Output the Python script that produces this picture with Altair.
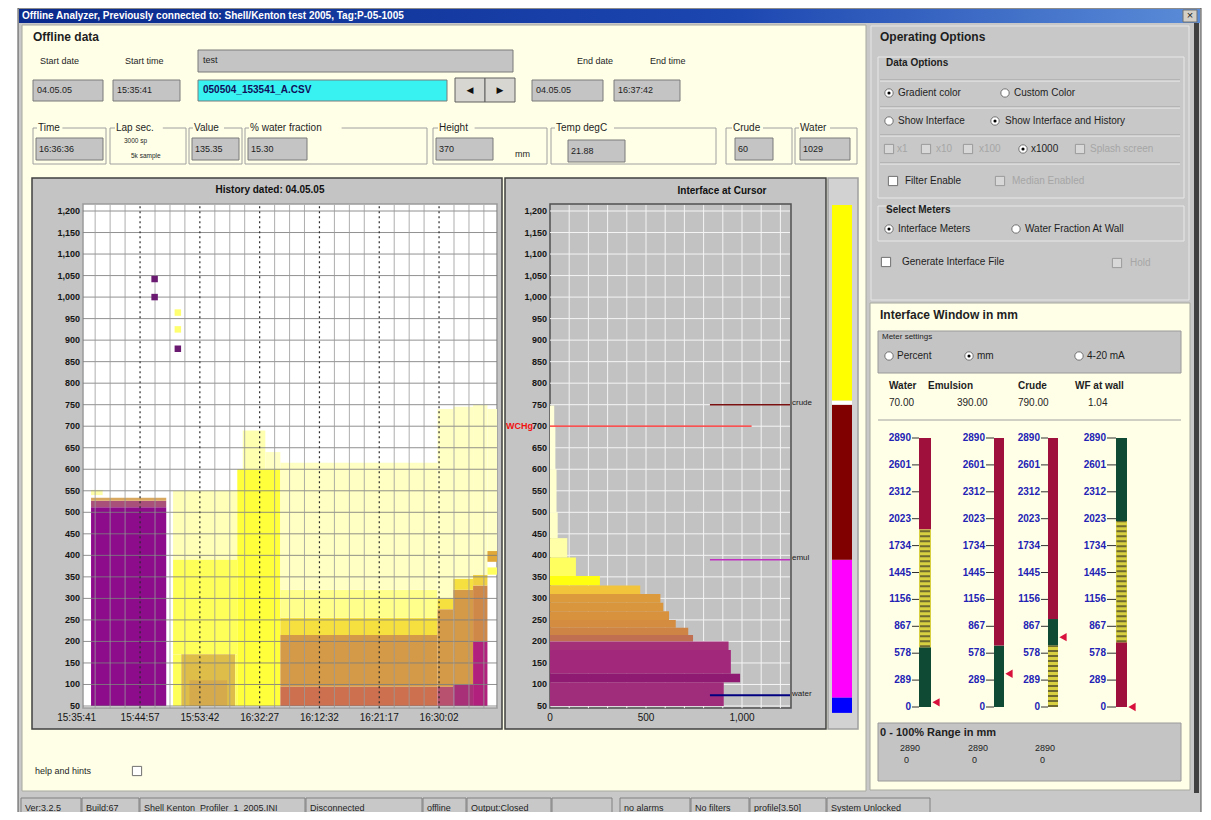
import altair as alt
import pandas as pd

FONT = "Liberation Sans"
W, H, OFF = 1195, 804, 8

# ---------------- chart data ----------------
# History chart: x = minutes since 15:35:41, y = height in mm
hist_y_ticks = [50, 100, 150, 200, 250, 300, 350, 400, 450, 500, 550, 600,
                650, 700, 750, 800, 850, 900, 950, 1000, 1050, 1100, 1150, 1200]
hist_x_tick_min = [0.0, 9.27, 18.02, 26.77, 35.52, 44.27, 53.02]
hist_x_tick_lbl = ["15:35:41", "15:44:57", "15:53:42", "16:32:27",
                   "16:12:32", "16:21:17", "16:30:02"]
hist_minor_min = [2.70, 4.89, 7.08, 11.46, 13.65, 15.83, 20.21, 22.40, 24.58,
                  28.96, 31.15, 33.33, 37.71, 39.90, 42.08, 46.46, 48.65,
                  50.83, 55.21, 57.40, 59.58]
# (start min, end min, low mm, high mm, colour)
hist_bands = [
    (2.1, 13.1, 50, 512, "#8C0C8C"), (2.1, 13.1, 512, 527, "#A8507A"),
    (2.1, 13.1, 527, 534, "#D8A860"), (2.1, 3.8, 540, 552, "#FFFFA8"),
    (14.1, 23.5, 390, 550, "#FFFFB8"), (14.1, 23.5, 170, 390, "#FFFF5A"),
    (14.1, 15.3, 50, 170, "#FFFF5A"), (15.3, 23.2, 50, 170, "#DEBE48"),
    (16.5, 22.0, 50, 110, "#D4AA4C"), (23.2, 23.5, 50, 170, "#FFFF5A"),
    (23.5, 29.8, 50, 600, "#FFFF3C"), (24.3, 27.6, 600, 690, "#FFFFB0"),
    (27.6, 29.8, 600, 640, "#FFFFC4"),
    (29.8, 52.8, 50, 95, "#CC7050"), (29.8, 52.8, 95, 215, "#D49A48"),
    (29.8, 52.8, 215, 255, "#F6E040"), (29.8, 52.8, 255, 320, "#FFFF8C"),
    (29.8, 52.8, 320, 615, "#FFFFC4"),
    (52.8, 55.1, 50, 95, "#B85070"), (52.8, 55.1, 95, 275, "#D49A48"),
    (52.8, 55.1, 275, 300, "#F6E040"), (52.8, 55.1, 300, 740, "#FFFFC4"),
    (55.1, 58.0, 50, 100, "#A83078"), (55.1, 58.0, 100, 320, "#D49A48"),
    (55.1, 58.0, 320, 345, "#F6E040"), (55.1, 58.0, 345, 745, "#FFFFC4"),
    (58.0, 60.1, 50, 200, "#B0207C"), (58.0, 60.1, 200, 330, "#D08848"),
    (58.0, 60.1, 330, 355, "#F0D040"), (58.0, 60.1, 355, 750, "#FFFFC4"),
    (60.1, 61.5, 355, 372, "#FFFF60"), (60.1, 61.5, 385, 410, "#E0A838"),
    (60.1, 61.5, 410, 740, "#FFFFC8"),
]
hist_points = [(11.4, 1042, "#6A1A70"), (11.4, 1000, "#6A1A70"),
               (14.8, 964, "#FFFF70"), (14.8, 925, "#FFFF70"),
               (14.8, 880, "#6A1A70")]

# Interface at cursor: (low mm, high mm, count, colour)
iface_bars = [
    (700, 748, 22, "#FFFFD8"), (600, 700, 28, "#FFFFD8"), (500, 600, 34, "#FFFFD0"),
    (440, 500, 40, "#FFFFC8"), (395, 440, 90, "#FFFFA8"), (352, 395, 135, "#FFFF60"),
    (330, 352, 260, "#FFFF10"), (310, 330, 470, "#F2C43C"), (290, 310, 575, "#DC9A3C"),
    (270, 290, 590, "#DA963C"), (250, 270, 620, "#D8923E"), (232, 250, 655, "#D48C40"),
    (215, 232, 720, "#CE8444"), (200, 215, 745, "#C07050"), (180, 200, 930, "#A4307A"),
    (125, 180, 942, "#A2287C"), (105, 125, 990, "#8E1A72"), (50, 105, 905, "#A02C7C"),
]
iface_x_ticks = [0, 500, 1000]
iface_grid_x = [100, 200, 300, 400, 500, 600, 700, 800, 900, 1000, 1100, 1200]
# reference lines: (label, mm, from, to, colour, width)
iface_refs = [("crude", 750, 833, 1250, "#7A1010", 1.5),
              ("WCHg", 700, 0, 1050, "#FF2020", 1.2),
              ("emul", 390, 833, 1250, "#C030C0", 1.5),
              ("water", 75, 833, 1250, "#000080", 2.0)]
colorbar_bands = [(34, 70, "#0000FF"), (70, 390, "#FF00FF"), (390, 750, "#800000"),
                  (750, 760, "#FFFFFF"), (760, 1214, "#FFFF00")]

# Interface window meters (mm)
gauge_ticks = [2890, 2601, 2312, 2023, 1734, 1445, 1156, 867, 578, 289, 0]
gauge_segments = [
    (0, 0, 642, "green"), (0, 642, 1909, "stripe"), (0, 1909, 2890, "red"),
    (1, 0, 660, "green"), (1, 660, 2890, "red"),
    (2, 0, 660, "stripe"), (2, 660, 945, "green"), (2, 945, 2890, "red"),
    (3, 0, 696, "red"), (3, 696, 1998, "stripe"), (3, 1998, 2890, "green"),
]
gauge_pointer = [50, 357, 750, 0]
meter_names = ["Water", "Emulsion", "Crude", "WF at wall"]
meter_values = ["70.00", "390.00", "790.00", "1.04"]

# ---------------- layout / styling ----------------
def R(a, b):
    return [a - OFF, b - OFF]

def S(domain, rng):
    return alt.Scale(domain=domain, range=rng, nice=False, zero=False)

PX = S([OFF, W + OFF], [0, W])
PY = S([OFF, H + OFF], [0, H])
HX = S([0, 61.5], R(76.7, 497))
HY = S([50, 1200], R(706, 211))
IX = S([0, 1250], R(550, 790))
GY = S([0, 2890], R(707, 438))
GAUGE_X = [(919, 931), (994, 1004), (1048, 1058), (1116, 1127)]
GAUGE_LBL_X = [911, 985, 1040, 1106]
SEG_COL = {"green": "#0E4A34", "red": "#A0103C", "stripe": "#D8D040"}

layers = []


def rect_layer(rows, xsc=PX, ysc=PY, sw=1):
    rows = [tuple(r) + ("transparent",) if len(r) == 5 else tuple(r) for r in rows]
    df = pd.DataFrame(rows, columns=["x0", "y0", "x1", "y1", "f", "s"])
    return alt.Chart(df).mark_rect(strokeWidth=sw).encode(
        x=alt.X("x0:Q", scale=xsc, axis=None), x2="x1:Q",
        y=alt.Y("y0:Q", scale=ysc, axis=None), y2="y1:Q",
        fill=alt.Fill("f:N", scale=None), stroke=alt.Stroke("s:N", scale=None))


def rule_layer(rows, xsc=PX, ysc=PY, sw=1, dash=None, opacity=1):
    df = pd.DataFrame(rows, columns=["x0", "y0", "x1", "y1", "c"])
    kw = dict(strokeWidth=sw, opacity=opacity)
    if dash:
        kw["strokeDash"] = dash
    return alt.Chart(df).mark_rule(**kw).encode(
        x=alt.X("x0:Q", scale=xsc, axis=None), x2="x1:Q",
        y=alt.Y("y0:Q", scale=ysc, axis=None), y2="y1:Q",
        color=alt.Color("c:N", scale=None))


def text_layer(rows, size=10, bold=False, align="left", xsc=PX, ysc=PY, font=FONT):
    df = pd.DataFrame(rows, columns=["x", "y", "t", "c"])
    return alt.Chart(df).mark_text(
        align=align, baseline="middle", fontSize=size, font=font,
        fontWeight="bold" if bold else "normal").encode(
        x=alt.X("x:Q", scale=xsc, axis=None), y=alt.Y("y:Q", scale=ysc, axis=None),
        text="t:N", color=alt.Color("c:N", scale=None))


def pts(rows):
    return pd.DataFrame(rows, columns=["x", "y"])


def point_layer(df, xsc=PX, ysc=PY, **mk):
    return alt.Chart(df).mark_point(**mk).encode(
        x=alt.X("x:Q", scale=xsc, axis=None), y=alt.Y("y:Q", scale=ysc, axis=None))


GRAY = "#C8C8C8"
CREAM = "#FFFFE8"
FIELD = "#C4C4C4"
TXT = "#1E1E1E"

# ---- window chrome ----
layers.append(rect_layer([
    (18, 8, 1201, 820, GRAY, "#505050"),
    (22, 25, 866, 791, CREAM, "#A8A8A0"),
    (871, 26, 1189, 300, GRAY, "#E6E6E6"),
    (870, 303, 1190, 790, CREAM, "#A8A8A0"),
    (1194, 23, 1199, 793, "#404040"),
]))
title_grad = alt.LinearGradient(
    gradient="linear",
    stops=[alt.GradientStop(color="#0A2A8C", offset=0),
           alt.GradientStop(color="#1C46B0", offset=0.6),
           alt.GradientStop(color="#5A8CD8", offset=1)],
    x1=0, x2=1, y1=0, y2=0)
layers.append(alt.Chart(pd.DataFrame({"x0": [19], "x1": [1200], "y0": [9], "y1": [23]}))
              .mark_rect(fill=title_grad).encode(
                  x=alt.X("x0:Q", scale=PX, axis=None), x2="x1:Q",
                  y=alt.Y("y0:Q", scale=PY, axis=None), y2="y1:Q"))
layers.append(rect_layer([(1183, 10, 1197, 22, "#D4D0C8", "#707070")]))

# ---- left panel fields ----
field_rows = [
    (198, 50, 513, 72, FIELD, "#7A7A7A"),
    (33, 80, 103, 101, FIELD, "#7A7A7A"), (113, 80, 180, 101, FIELD, "#7A7A7A"),
    (198, 80, 447, 101, "#38F2F2", "#7A7A7A"),
    (455, 78, 485, 102, "#D8D6D0", "#606060"), (485, 78, 515, 102, "#D8D6D0", "#606060"),
    (532, 80, 603, 101, FIELD, "#7A7A7A"), (614, 80, 680, 101, FIELD, "#7A7A7A"),
]
group_frames = [(33, 128, 106, 164), (110, 128, 186, 164), (189, 128, 242, 164),
                (245, 128, 427, 164), (433, 128, 547, 164), (551, 128, 716, 164),
                (726, 128, 792, 164), (795, 128, 857, 164)]
layers.append(rect_layer([(a, b, c, d, CREAM, "#A0A0A0") for a, b, c, d in group_frames]))
group_labels = [("Time", 38, 128), ("Lap sec.", 116, 128), ("Value", 194, 128),
                ("% water fraction", 250, 128), ("Height", 439, 128),
                ("Temp  degC", 556, 128), ("Crude", 733, 128), ("Water", 800, 128)]
layers.append(rect_layer([(x - 1, 122, x + len(t) * 5.6 + 2, 134, CREAM) for t, x, y in group_labels]))
field_rows += [(36, 138, 103, 160, FIELD, "#7A7A7A"), (192, 138, 239, 160, FIELD, "#7A7A7A"),
               (248, 138, 307, 160, FIELD, "#7A7A7A"), (436, 138, 493, 160, FIELD, "#7A7A7A"),
               (568, 140, 625, 162, FIELD, "#7A7A7A"), (735, 138, 773, 160, FIELD, "#7A7A7A"),
               (800, 138, 850, 160, FIELD, "#7A7A7A")]
layers.append(rect_layer(field_rows))

# ---- chart frames ----
layers.append(rect_layer([
    (32, 178, 502, 729, "#C4C4C4", "#404040"),
    (505, 178, 826, 729, "#C4C4C4", "#404040"),
    (828, 178, 858, 729, "#D2D2D2", "#A0A0A0"),
    (83, 204, 497, 708, "#FFFFFF", "#9A9A9A"),
    (550, 204, 791, 708, "#C2C2C2", "#505050"),
], sw=1.5))

# ---- history chart ----
layers.append(rect_layer([(m0, v0, m1, v1, c) for m0, m1, v0, v1, c in hist_bands], xsc=HX, ysc=HY))
layers.append(rule_layer([(0.92, v, 61.5, v, "#7E7E7E") for v in hist_y_ticks],
                         xsc=HX, ysc=HY, sw=1, opacity=0.85))
layers.append(rule_layer([(m, 45, m, 1214, "#9A9A9A") for m in hist_minor_min],
                         xsc=HX, ysc=HY, sw=1, opacity=0.8))
layers.append(rule_layer([(m, 45, m, 1214, "#2A2A2A") for m in hist_x_tick_min[1:]],
                         xsc=HX, ysc=HY, sw=1.2, dash=[2, 3]))
hp = pd.DataFrame(hist_points, columns=["x", "y", "c"])
layers.append(alt.Chart(hp).mark_square(size=42, opacity=1).encode(
    x=alt.X("x:Q", scale=HX, axis=None), y=alt.Y("y:Q", scale=HY, axis=None),
    color=alt.Color("c:N", scale=None)))
layers.append(text_layer([(80, v, f"{v:,}", "#141414") for v in hist_y_ticks],
                         size=9, bold=True, align="right", xsc=PX, ysc=HY))
layers.append(text_layer([(m, 718, l, "#141414") for m, l in zip(hist_x_tick_min, hist_x_tick_lbl)],
                         size=10, align="center", xsc=HX, ysc=PY))
layers.append(text_layer([(270, 190, "History dated: 04.05.05", "#101010")], size=10, bold=True, align="center"))

# ---- interface at cursor ----
layers.append(rule_layer([(0, v, 1250, v, "#F4F4F4") for v in hist_y_ticks], xsc=IX, ysc=HY, sw=1))
layers.append(rule_layer([(x, 45, x, 1214, "#F4F4F4") for x in iface_grid_x], xsc=IX, ysc=HY, sw=1))
layers.append(rect_layer([(0, lo, w, hi, c) for lo, hi, w, c in iface_bars], xsc=IX, ysc=HY))
for name, v, a, b, c, sw in iface_refs:
    layers.append(rule_layer([(a, v, b, v, c)], xsc=IX, ysc=HY, sw=sw))
layers.append(text_layer([(792, v + 3, n, "#202020") for n, v, a, b, c, sw in iface_refs if n != "WCHg"],
                         size=8, xsc=PX, ysc=HY))
layers.append(text_layer([(506, 700, "WCHg", "#F01010")], size=9, bold=True, xsc=PX, ysc=HY))
layers.append(text_layer([(547, v, f"{v:,}", "#141414") for v in hist_y_ticks],
                         size=9, bold=True, align="right", xsc=PX, ysc=HY))
layers.append(text_layer([(x, 718, f"{x:,}", "#141414") for x in iface_x_ticks],
                         size=10, align="center", xsc=IX, ysc=PY))
layers.append(text_layer([(722, 191, "Interface at Cursor", "#101010")], size=10, bold=True, align="center"))

# ---- colour bar ----
layers.append(rect_layer([(832, lo, 852, hi, c) for lo, hi, c in colorbar_bands], xsc=PX, ysc=HY))

# ---- gauges ----
seg_rows, stripe_rows = [], []
for g, lo, hi, kind in gauge_segments:
    x0, x1 = GAUGE_X[g]
    seg_rows.append((x0, lo, x1, hi, SEG_COL[kind]))
    if kind == "stripe":
        stripe_rows.append(((x0 + x1) / 2, lo, (x0 + x1) / 2, hi, "#6E6A30"))
layers.append(rect_layer(seg_rows, xsc=PX, ysc=GY))
layers.append(rule_layer(stripe_rows, xsc=PX, ysc=GY, sw=10, dash=[2, 3]))
tick_rows, lbl_rows = [], []
for g in range(4):
    for v in gauge_ticks:
        tick_rows.append((GAUGE_LBL_X[g] + 1, v, GAUGE_X[g][0], v, "#303030"))
        lbl_rows.append((GAUGE_LBL_X[g], v, str(v), "#2222B4"))
layers.append(rule_layer(tick_rows, xsc=PX, ysc=GY, sw=1))
layers.append(text_layer(lbl_rows, size=10, bold=True, align="right", xsc=PX, ysc=GY))
ptr = pd.DataFrame({"x": [GAUGE_X[g][1] + 5 for g in range(4)], "y": gauge_pointer})
layers.append(point_layer(ptr, xsc=PX, ysc=GY, shape="triangle-left", size=70,
                          filled=True, color="#D8103C", opacity=1))

# ---- right panels ----
layers.append(rect_layer([
    (878, 57, 1184, 198, "transparent", "#E8E8E8"),
    (878, 206, 1184, 241, "transparent", "#E8E8E8"),
    (878, 331, 1181, 373, FIELD, "#9A9A9A"),
    (878, 723, 1181, 781, FIELD, "#9A9A9A"),
]))
layers.append(rule_layer([(880, y, 1180, y, "#A0A0A0") for y in (80, 107, 135, 163)] +
                         [(880, y + 1, 1180, y + 1, "#EEEEEE") for y in (80, 107, 135, 163)] +
                         [(878, 420, 1181, 420, "#A0A0A0")], sw=1))

# status bar
status = [("Ver:3.2.5", 21, 81), ("Build:67", 82, 139), ("Shell Kenton_Profiler_1_2005.INI", 140, 305),
          ("Disconnected", 306, 422), ("offline", 423, 466), ("Output:Closed", 467, 551),
          ("", 552, 612), ("no alarms", 620, 690), ("No filters", 691, 749),
          ("profile[3.50]", 750, 826), ("System Unlocked", 827, 930)]
layers.append(rect_layer([(a, 798, b, 818, GRAY, "#808080") for t, a, b in status]))
layers.append(text_layer([(a + 4, 808, t, TXT) for t, a, b in status if t], size=9))

# ---- texts ----
layers.append(text_layer([(22, 15.5, "Offline Analyzer, Previously connected to: Shell/Kenton test 2005, Tag:P-05-1005", "#FFFFFF")],
                         size=10, bold=True))
layers.append(text_layer([(1190, 16, "×", "#202020")], size=11, align="center"))
layers.append(text_layer([(33, 37, "Offline data", TXT),
                          (880, 37, "Operating Options", TXT),
                          (880, 315, "Interface Window in mm", TXT)], size=12, bold=True))
layers.append(text_layer([(886, 63, "Data Options", TXT), (886, 210, "Select Meters", TXT)],
                         size=10, bold=True))
normal = [("Start date", 40, 61), ("Start time", 125, 61), ("End date", 577, 61), ("End time", 650, 61),
          ("test", 203, 60), ("04.05.05", 37, 90), ("15:35:41", 117, 90),
          ("04.05.05", 536, 90), ("16:37:42", 618, 90),
          ("16:36:36", 39, 149), ("135.35", 195, 149), ("15.30", 251, 149), ("370", 439, 149),
          ("21.88", 571, 151), ("60", 738, 149), ("1029", 803, 149), ("mm", 515, 154),
          ("help and hints", 35, 771)]
layers.append(text_layer([(x, y, t, TXT) for t, x, y in normal], size=9))
layers.append(text_layer([(x, y, t, TXT) for t, x, y in group_labels], size=10))
layers.append(text_layer([(124, 141, "3000 sp", TXT), (131, 156, "5k sample", TXT)], size=6.5))
layers.append(text_layer([(203, 90, "050504_153541_A.CSV", "#10105A")], size=10, bold=True))
layers.append(text_layer([(470, 90, "◀", "#101010"), (500, 90, "▶", "#101010")],
                         size=9, align="center", font="DejaVu Sans"))
opt_txt = [("Gradient color", 898, 93), ("Custom Color", 1014, 93),
           ("Show Interface", 898, 121), ("Show Interface and History", 1005, 121),
           ("x1000", 1031, 149), ("Filter Enable", 905, 181),
           ("Interface Meters", 898, 229), ("Water Fraction At Wall", 1025, 229),
           ("Generate Interface File", 902, 262),
           ("Percent", 897, 356), ("mm", 977, 356), ("4-20 mA", 1087, 356)]
layers.append(text_layer([(x, y, t, TXT) for t, x, y in opt_txt], size=10))
layers.append(text_layer([(x, y, t, "#A6A6A6") for t, x, y in
                          [("x1", 897, 149), ("x10", 936, 149), ("x100", 979, 149),
                           ("Splash screen", 1090, 149), ("Median Enabled", 1012, 181),
                           ("Hold", 1130, 263)]], size=10))
layers.append(text_layer([(882, 337, "Meter settings", TXT)], size=8))
layers.append(text_layer([(880, 733, "0 - 100%  Range in mm", TXT)], size=11, bold=True))
layers.append(text_layer([(x, 386, t, TXT) for t, x in zip(meter_names, [889, 928, 1018, 1075])],
                         size=10, bold=True))
layers.append(text_layer([(x, 403, t, TXT) for t, x in zip(meter_values, [889, 957, 1018, 1088])],
                         size=10))
layers.append(text_layer([(900, 748, "2890", TXT), (904, 760, "0", TXT),
                          (968, 748, "2890", TXT), (972, 760, "0", TXT),
                          (1035, 748, "2890", TXT), (1040, 760, "0", TXT)], size=9))

# radios and check boxes
radios = pts([(889, 93), (1005, 93), (889, 121), (995, 121), (1023, 149), (889, 229),
              (1016, 229), (889, 356), (969, 356), (1079, 356)])
layers.append(point_layer(radios, shape="circle", size=70, filled=True, fill="#FFFFFF",
                          stroke="#707070", strokeWidth=1, opacity=1))
dots = pts([(889, 93), (995, 121), (1023, 149), (889, 229), (969, 356)])
layers.append(point_layer(dots, shape="circle", size=10, filled=True, color="#000000", opacity=1))
boxes_w = pts([(893, 181), (886, 262), (137, 771)])
layers.append(alt.Chart(boxes_w).mark_square(size=85, fill="#FFFFFF", stroke="#707070", strokeWidth=1, opacity=1)
              .encode(x=alt.X("x:Q", scale=PX, axis=None), y=alt.Y("y:Q", scale=PY, axis=None)))
boxes_g = pts([(889, 149), (926, 149), (968, 149), (1080, 149), (1000, 181), (1117, 263)])
layers.append(alt.Chart(boxes_g).mark_square(size=85, fill="#D8D8D8", stroke="#9A9A9A", strokeWidth=1, opacity=1)
              .encode(x=alt.X("x:Q", scale=PX, axis=None), y=alt.Y("y:Q", scale=PY, axis=None)))

chart = alt.layer(*layers).resolve_scale(x="independent", y="independent").properties(
    width=W, height=H, padding=0, background="white",
    autosize=alt.AutoSizeParams(type="none"),
).configure_view(stroke=None)

chart.save("out.html", embed_options={"renderer": "svg", "actions": False})
